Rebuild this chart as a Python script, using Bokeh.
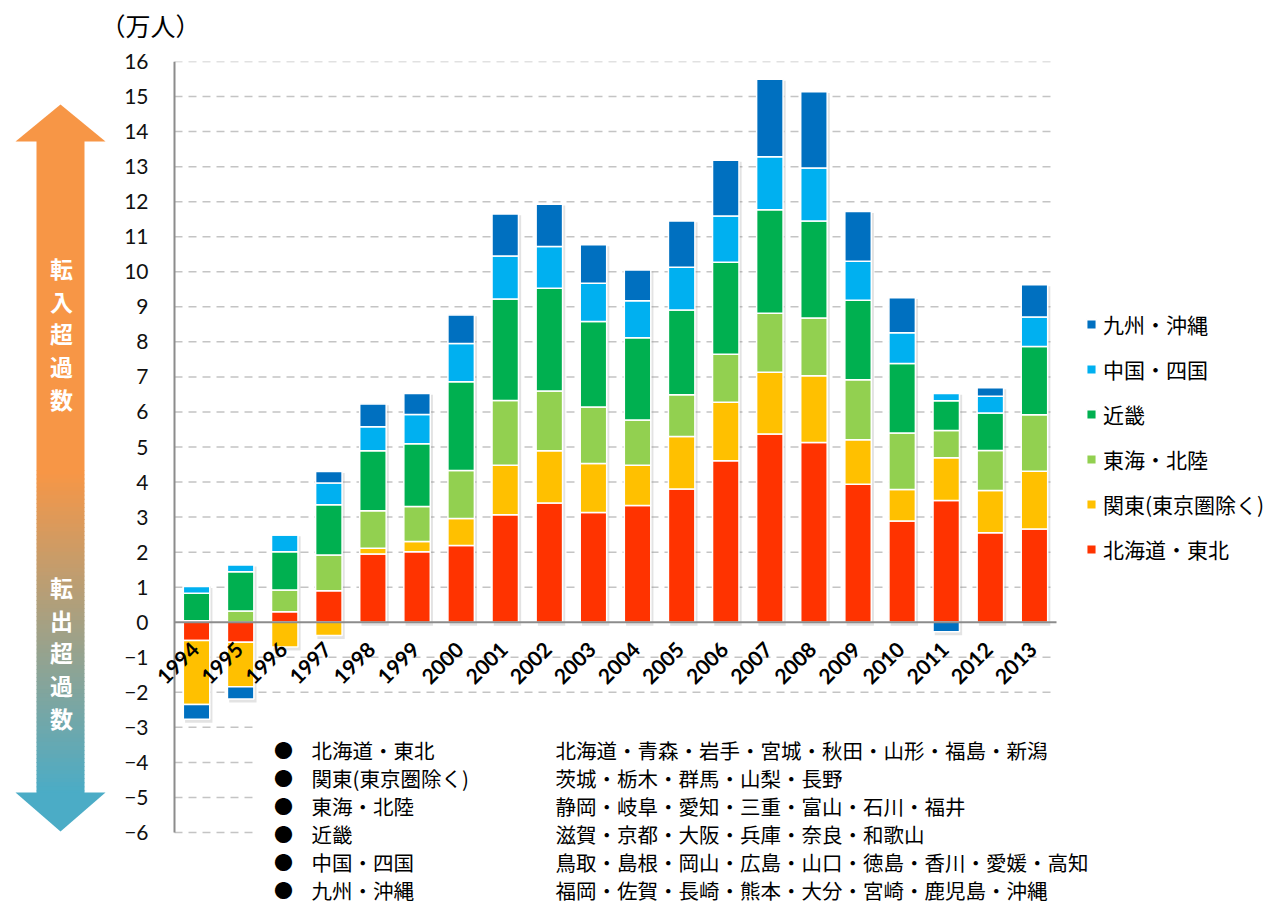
import numpy as np
from bokeh.plotting import figure
from bokeh.layouts import row, column
from bokeh.models import (Range1d, FixedTicker, Label, BoxAnnotation,
                          Legend, LegendItem, ColumnDataSource)
from bokeh.core.properties import value
from bokeh.embed import file_html
from bokeh.resources import INLINE

# ---- data: net in-migration by region of origin (10,000 persons) ----
years = [str(y) for y in range(1994, 2014)]
hokkaido_tohoku = [-0.52, -0.57, 0.30, 0.90, 1.95, 2.01, 2.19, 3.07, 3.40, 3.13,
                   3.33, 3.80, 4.61, 5.37, 5.13, 3.94, 2.89, 3.47, 2.55, 2.66]
kanto_ex_tokyo = [-1.83, -1.27, -0.71, -0.38, 0.16, 0.29, 0.77, 1.41, 1.49, 1.40,
                  1.15, 1.50, 1.67, 1.76, 1.90, 1.27, 0.90, 1.22, 1.21, 1.65]
tokai_hokuriku = [0.04, 0.32, 0.62, 1.02, 1.07, 1.00, 1.37, 1.85, 1.71, 1.61,
                  1.29, 1.19, 1.37, 1.69, 1.65, 1.71, 1.61, 0.78, 1.14, 1.61]
kinki = [0.79, 1.12, 1.09, 1.43, 1.71, 1.79, 2.53, 2.89, 2.93, 2.44,
         2.35, 2.42, 2.62, 2.95, 2.77, 2.27, 1.98, 0.85, 1.07, 1.95]
chugoku_shikoku = [0.19, 0.19, 0.48, 0.62, 0.69, 0.84, 1.09, 1.23, 1.19, 1.09,
                   1.05, 1.22, 1.32, 1.51, 1.51, 1.11, 0.88, 0.21, 0.48, 0.84]
kyushu_okinawa = [-0.42, -0.35, 0.00, 0.33, 0.65, 0.60, 0.82, 1.20, 1.21, 1.10,
                  0.88, 1.32, 1.59, 2.21, 2.18, 1.42, 1.00, -0.27, 0.24, 0.92]

region_names = ["北海道・東北", "関東(東京圏除く)", "東海・北陸", "近畿", "中国・四国", "九州・沖縄"]
region_prefs = [
    "北海道・青森・岩手・宮城・秋田・山形・福島・新潟",
    "茨城・栃木・群馬・山梨・長野",
    "静岡・岐阜・愛知・三重・富山・石川・福井",
    "滋賀・京都・大阪・兵庫・奈良・和歌山",
    "鳥取・島根・岡山・広島・山口・徳島・香川・愛媛・高知",
    "福岡・佐賀・長崎・熊本・大分・宮崎・鹿児島・沖縄",
]
region_colors = ["#FF3300", "#FFC000", "#92D050", "#00B050", "#00B0F0", "#0070C0"]
y_ticks = list(range(-6, 17))

series = [hokkaido_tohoku, kanto_ex_tokyo, tokai_hokuriku, kinki,
          chugoku_shikoku, kyushu_okinawa]

JP = "Noto Sans CJK JP"
NUM = "Lato"
W, H = 1274, 905

# ---- geometry (page pixels) ----
HEAD_H = 49              # header strip with the unit label
TOP_PAD = 12             # room above the frame for the top tick label
FRAME_T = HEAD_H + TOP_PAD   # value 16
ARROW_W = 110            # strip on the far left holding the arrow
FRAME_L = 150            # left edge of the plotting frame (just right of tick labels)
AXIS_X = 174             # drawn value-axis line / left edge of the category area
UNIT_X = 882 / len(years)
UNIT_Y = 771 / 22
Y1 = 16


def dx(px):
    """page pixel column -> data x"""
    return -0.5 + (px - AXIS_X) / UNIT_X


def dy(py):
    """page pixel row -> data y"""
    return Y1 - (py - FRAME_T) / UNIT_Y


def bare(width, height, x_range, y_range, top=0):
    f = figure(frame_width=width, frame_height=height, x_range=x_range, y_range=y_range,
               output_backend="svg", toolbar_location=None, min_border=0,
               min_border_top=top, outline_line_color=None,
               background_fill_color="white", border_fill_color="white")
    f.axis.visible = False
    f.grid.visible = False
    return f


# ---- header strip with the unit label ----
head = bare(W, HEAD_H, Range1d(0, W), Range1d(HEAD_H, 0))
head.add_layout(Label(x=150, y=24, text="（万人）", text_align="center",
                      text_baseline="middle", text_font=JP, text_font_size="25px",
                      text_color="black"))

# ---- main chart ----
p = figure(frame_width=W - FRAME_L, frame_height=H - FRAME_T,
           x_range=Range1d(dx(FRAME_L), dx(W)), y_range=Range1d(dy(H), Y1),
           output_backend="svg", toolbar_location=None,
           min_border_left=FRAME_L - ARROW_W, min_border_top=TOP_PAD,
           min_border_bottom=0, min_border_right=0, outline_line_color=None,
           background_fill_color="white", border_fill_color="white")

# value axis: tick labels from the axis, line drawn at the category edge
p.xaxis.visible = False
p.xgrid.visible = False
p.ygrid.visible = False
p.yaxis.ticker = FixedTicker(ticks=y_ticks)
p.yaxis.axis_line_color = None
p.yaxis.major_tick_line_color = None
p.yaxis.major_tick_out = 0
p.yaxis.major_tick_in = 0
p.yaxis.minor_tick_line_color = None
p.yaxis.major_label_standoff = 2
p.yaxis.major_label_text_font = NUM
p.yaxis.major_label_text_font_size = "21px"
p.yaxis.major_label_text_color = "#111111"

x_lo, x_hi = -0.5, len(years) - 0.5
grid_y = [t for t in y_ticks if t != 0]
p.segment(x0=[x_lo] * len(grid_y), x1=[x_hi] * len(grid_y), y0=grid_y, y1=grid_y,
          line_color="#C4C4C4", line_width=1.5, line_dash="8 6")
p.segment(x0=[x_lo], x1=[x_lo], y0=[min(y_ticks)], y1=[max(y_ticks)],
          line_color="#8C8C8C", line_width=2)

# ---- stacked bars: positives stack up from 0, negatives down from 0 ----
x = np.arange(len(years), dtype=float)
pos = np.zeros(len(years))
neg = np.zeros(len(years))
stacks = []
for vals in series:
    v = np.array(vals, dtype=float)
    bottom = np.where(v >= 0, pos, neg + v)
    top = np.where(v >= 0, pos + v, neg)
    pos = pos + np.where(v >= 0, v, 0)
    neg = neg + np.where(v < 0, v, 0)
    stacks.append((bottom, top))

# soft drop shadow behind each column
p.vbar(x=x + 0.05, width=0.62, bottom=neg - 0.1, top=pos - 0.04,
       fill_color="#7F7F7F", fill_alpha=0.22, line_color=None)

renderers = []
for (bottom, top), color in zip(stacks, region_colors):
    r = p.vbar(x=x, width=0.6, bottom=bottom, top=top,
               fill_color=color, line_color="white", line_width=1.5)
    renderers.append(r)

# zero line
p.segment(x0=[x_lo], x1=[x_hi], y0=[0], y1=[0], line_color="#8C8C8C", line_width=2)

# rotated year labels under the zero line
year_src = ColumnDataSource(dict(x=x - 0.03, y=np.full(len(years), -0.67), text=years))
p.text(x="x", y="y", text="text", source=year_src, angle=np.pi / 4,
       text_align="right", text_baseline="middle", text_font=value(NUM),
       text_font_style="bold", text_font_size="21px", text_color="black")

# legend, top item = last series
legend = Legend(
    items=[LegendItem(label=n, renderers=[r])
           for n, r in reversed(list(zip(region_names, renderers)))],
    location=(1085 - FRAME_L, H - 564), glyph_width=12, glyph_height=12,
    label_text_font=JP, label_text_font_size="21px", label_text_color="black",
    spacing=15, padding=0, margin=0, label_standoff=6,
    border_line_color=None, background_fill_alpha=0)
p.add_layout(legend)

# ---- region / prefecture table below the columns ----
p.add_layout(BoxAnnotation(left=dx(255), right=x_hi, top=dy(724), fill_color="white",
                           fill_alpha=1, line_color=None))
for i, (name, prefs) in enumerate(zip(region_names, region_prefs)):
    ry = dy(749 + i * 28.0)
    p.add_layout(Label(x=dx(283), y=ry, text="●", text_align="center",
                       text_baseline="middle", text_font=JP, text_font_size="19px",
                       text_color="black"))
    p.add_layout(Label(x=dx(311), y=ry, text=name, text_align="left",
                       text_baseline="middle", text_font=JP, text_font_size="20.5px",
                       text_color="black"))
    p.add_layout(Label(x=dx(555), y=ry, text=prefs, text_align="left",
                       text_baseline="middle", text_font=JP, text_font_size="20.5px",
                       text_color="black"))

# ---- double-headed gradient arrow (own strip, page pixel coordinates) ----
a = bare(ARROW_W, H - FRAME_T, Range1d(0, ARROW_W), Range1d(H, FRAME_T), top=TOP_PAD)

orange = np.array([247, 150, 70])
teal = np.array([75, 172, 198])
n_band = 80
g_top, g_bot = 470, 794
edges = np.linspace(g_top, g_bot, n_band + 1)
band_cols = ["#%02x%02x%02x" % tuple(np.round(orange + (teal - orange) * t).astype(int))
             for t in np.linspace(0, 1, n_band)]
a.quad(left=[36], right=[84], top=[139], bottom=[g_top + 0.5],
       fill_color="#F79646", line_color=None)
a.quad(left=np.full(n_band, 36), right=np.full(n_band, 84),
       top=edges[:-1], bottom=edges[1:] + 0.8, fill_color=band_cols, line_color=None)
a.patch(x=[15, 60, 105], y=[141, 104, 141], fill_color="#F79646", line_color=None)
a.patch(x=[15, 60, 105], y=[792, 831, 792], fill_color="#4BACC6", line_color=None)
for txt, yc in (("転\n入\n超\n過\n数", 333), ("転\n出\n超\n過\n数", 652)):
    a.add_layout(Label(x=61, y=yc, text=txt, text_align="center",
                       text_baseline="middle", text_font=JP, text_font_style="bold",
                       text_font_size="23px", text_line_height=0.96, text_color="white"))

layout = column(head, row(a, p))
open("out.html", "w").write(file_html(layout, INLINE))
